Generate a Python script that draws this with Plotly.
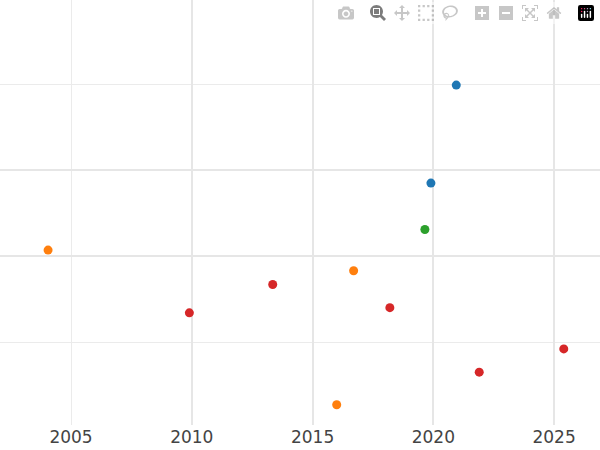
import plotly.graph_objects as go

# values
blue_x = [2020.95, 2019.9]
blue_y = [3.99, 2.85]
green_x = [2019.65]
green_y = [2.31]
orange_x = [2004.05, 2016.7, 2016.0]
orange_y = [2.07, 1.83, 0.27]
red_x = [2009.9, 2013.35, 2018.2, 2021.9, 2025.4]
red_y = [1.34, 1.67, 1.40, 0.65, 0.92]

x_ticks = [2005, 2010, 2015, 2020, 2025]
x_major = [2010, 2015, 2020, 2025]
y_thin = [1, 4]
y_major = [2, 3]

xr = [2002.06, 2026.9]
yr = [0.035, 4.98]

fig = go.Figure()
# invisible trace on second axes, only to carry the thicker grid lines
fig.add_trace(go.Scatter(x=[xr[0]], y=[yr[0]], xaxis='x2', yaxis='y2',
                         mode='markers', marker=dict(opacity=0), showlegend=False,
                         hoverinfo='skip'))
for xs, ys, c in [(blue_x, blue_y, '#1f77b4'), (green_x, green_y, '#2ca02c'),
                  (orange_x, orange_y, '#ff7f0e'), (red_x, red_y, '#d62728')]:
    fig.add_trace(go.Scatter(x=xs, y=ys, mode='markers',
                             marker=dict(color=c, size=9), showlegend=False))

fig.update_layout(
    width=600, height=450,
    margin=dict(l=0, r=0, t=0, b=25),
    plot_bgcolor='white', paper_bgcolor='white',
    font=dict(family='DejaVu Sans', size=17, color='#444'),
    xaxis=dict(range=xr, tickvals=x_ticks, showgrid=True, gridcolor='#ebebeb',
               gridwidth=1, zeroline=False, showline=False, ticks=''),
    yaxis=dict(range=yr, tickvals=y_thin, showticklabels=False, showgrid=True,
               gridcolor='#ebebeb', gridwidth=1, zeroline=False),
    xaxis2=dict(range=xr, overlaying='x', tickvals=x_major, showticklabels=False,
                showgrid=True, gridcolor='#e6e6e6', gridwidth=2, zeroline=False),
    yaxis2=dict(range=yr, overlaying='y', tickvals=y_major, showticklabels=False,
                showgrid=True, gridcolor='#e6e6e6', gridwidth=2, zeroline=False),
)

fig.write_html("out.html")

# drop the browser's default page margin
with open("out.html") as f:
    html = f.read()
html = html.replace("<head>", "<head><style>body{margin:0;}</style>", 1)
with open("out.html", "w") as f:
    f.write(html)
